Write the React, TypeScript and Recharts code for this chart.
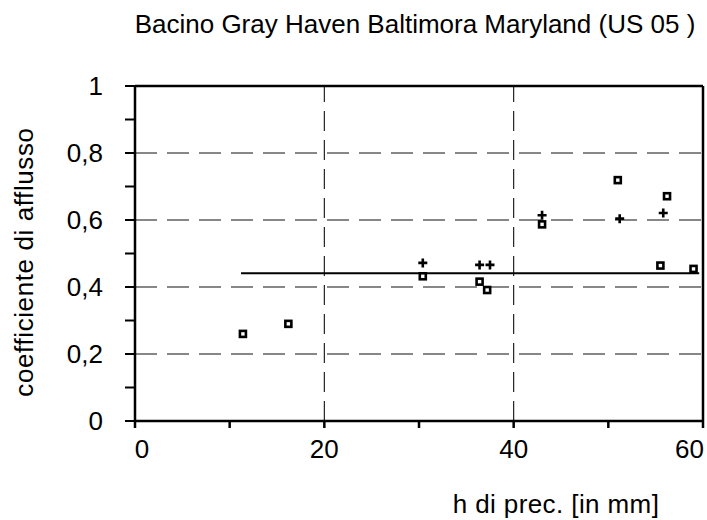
import { ScatterChart, Scatter, XAxis, YAxis, ReferenceLine } from "recharts"

// quadratini
const squareX = [11.4, 16.2, 30.4, 36.4, 37.2, 43.0, 51.0, 55.5, 56.2, 59.0]
const squareY = [0.26, 0.29, 0.432, 0.416, 0.391, 0.587, 0.719, 0.464, 0.671, 0.454]

// crocette
const plusX = [30.4, 36.4, 37.5, 43.0, 51.2, 55.8]
const plusY = [0.472, 0.466, 0.466, 0.614, 0.604, 0.621]

// valore medio
const meanX = [11.2, 59.6]
const meanY = 0.441

const xTicks = [0, 10, 20, 30, 40, 50, 60]
const xLabeled = [0, 20, 40, 60]
const yTicks = [0, 0.1, 0.2, 0.3, 0.4, 0.5, 0.6, 0.7, 0.8, 0.9, 1]
const yLabeled = [0, 0.2, 0.4, 0.6, 0.8, 1]
const hGrid = [0.2, 0.4, 0.6, 0.8]
const vGrid = [20, 40]

const squares = squareX.map((x, i) => ({ x, y: squareY[i] }))
const pluses = plusX.map((x, i) => ({ x, y: plusY[i] }))

const FONT = "'Liberation Sans', Arial, sans-serif"

const Square = (props: any) => {
  const { cx, cy } = props
  return (
    <rect x={cx - 3} y={cy - 3} width={6} height={6} fill="#fff" stroke="#000" strokeWidth={2.6} />
  )
}

const Plus = (props: any) => {
  const { cx, cy } = props
  return (
    <path
      d={`M${cx - 4.5},${cy} L${cx + 4.5},${cy} M${cx},${cy - 4.5} L${cx},${cy + 4.5}`}
      stroke="#000"
      strokeWidth={2.6}
    />
  )
}

const fmt = (v: number) => String(v).replace(".", ",")

const YTick = (props: any) => {
  const { x, y, payload } = props
  const v = payload.value
  if (!yLabeled.some((t) => Math.abs(t - v) < 1e-6)) return null
  return (
    <text x={x - 22} y={y} dy={9} textAnchor="end" fontSize={26} fontFamily={FONT} fill="#000">
      {fmt(v)}
    </text>
  )
}

const XTick = (props: any) => {
  const { x, y, payload } = props
  const v = payload.value
  if (!xLabeled.includes(v)) return null
  const last = v === xLabeled[xLabeled.length - 1]
  return (
    <text
      x={last ? x + 5 : v === 0 ? x + 7 : x}
      y={y}
      dy={28}
      textAnchor={last ? "end" : "middle"}
      fontSize={26}
      fontFamily={FONT}
      fill="#000"
    >
      {v}
    </text>
  )
}

export default function App() {
  return (
    <div style={{ position: "absolute", left: 0, top: 0, width: 707, height: 520, background: "#fff" }}>
      <ScatterChart width={707} height={520} margin={{ top: 86, right: 4, bottom: 0, left: 0 }}>
        <text x={415} y={33} textAnchor="middle" fontSize={26} fontFamily={FONT} fill="#000">
          Bacino Gray Haven Baltimora Maryland (US 05 )
        </text>
        <XAxis
          type="number"
          dataKey="x"
          domain={[0, 60]}
          ticks={xTicks}
          height={99}
          axisLine={{ stroke: "#000", strokeWidth: 2.5 }}
          tickLine={{ stroke: "#000", strokeWidth: 2.5 }}
          tickSize={7}
          tick={<XTick />}
          label={{
            content: () => (
              <text
                x={556}
                y={513}
                textAnchor="middle"
                fontSize={26}
                letterSpacing={0.4}
                fontFamily={FONT}
                fill="#000"
              >
                h di prec. [in mm]
              </text>
            ),
          }}
        />
        <YAxis
          type="number"
          dataKey="y"
          domain={[0, 1]}
          ticks={yTicks}
          width={135}
          axisLine={{ stroke: "#000", strokeWidth: 2.5 }}
          tickLine={{ stroke: "#000", strokeWidth: 2 }}
          tickSize={10}
          tickMargin={0}
          tick={<YTick />}
          label={{
            content: () => (
              <text
                x={0}
                y={0}
                transform="translate(33 262) rotate(-90)"
                textAnchor="middle"
                fontSize={26}
                letterSpacing={0.6}
                fontFamily={FONT}
                fill="#000"
              >
                coefficiente di afflusso
              </text>
            ),
          }}
        />
        {hGrid.map((v) => (
          <ReferenceLine key={`h${v}`} y={v} stroke="#111" strokeWidth={1.1} strokeDasharray="22 10" />
        ))}
        {vGrid.map((v) => (
          <ReferenceLine key={`v${v}`} x={v} stroke="#111" strokeWidth={1.1} strokeDasharray="20 9" />
        ))}
        <ReferenceLine y={1} stroke="#000" strokeWidth={2.5} />
        <ReferenceLine x={60} stroke="#000" strokeWidth={2.5} />
        <ReferenceLine
          segment={[
            { x: meanX[0], y: meanY },
            { x: meanX[1], y: meanY },
          ]}
          stroke="#000"
          strokeWidth={2}
        />
        <Scatter data={squares} shape={<Square />} isAnimationActive={false} />
        <Scatter data={pluses} shape={<Plus />} isAnimationActive={false} />
      </ScatterChart>
    </div>
  )
}
